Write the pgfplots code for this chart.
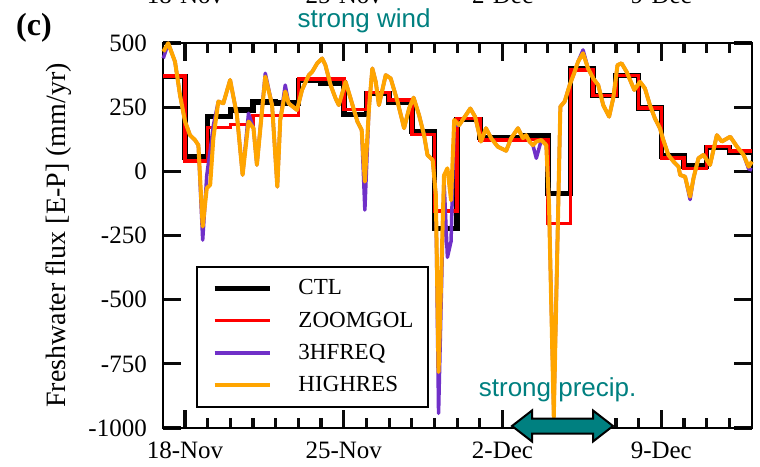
\documentclass[border=0pt]{standalone}
\usepackage{fontspec}
\setmainfont{Liberation Serif}
\newfontfamily\annotfont{Liberation Sans}
\usepackage{pgfplots}
\pgfplotsset{compat=1.18}

\definecolor{ctlcol}{RGB}{0,0,0}
\definecolor{zoomcol}{RGB}{255,0,0}
\definecolor{freqcol}{RGB}{112,48,200}
\definecolor{hirescol}{RGB}{255,165,0}
\definecolor{annot}{RGB}{0,128,128}
\definecolor{tickcol}{RGB}{10,10,10}

\begin{document}
\begin{tikzpicture}
\begin{axis}[
  at={(163pt,38pt)}, anchor=south west,
  scale only axis, width=589pt, height=385pt,
  xmin=-0.97, xmax=25, ymin=-1000, ymax=500,
  clip=false,
  axis line style={line width=2.2pt},
  every tick/.style={draw=tickcol, line width=3.2pt},
  tick align=inside,
  xtick pos=both, ytick pos=both,
  xticklabel pos=bottom, yticklabel pos=left,
  major tick length=18pt, minor tick length=10pt,
  xtick={0,7,14,21},
  xticklabels={18-Nov,25-Nov,2-Dec,9-Dec},
  minor xtick={1,2,3,4,5,6,8,9,10,11,12,13,15,16,17,18,19,20,22,23,24},
  ytick={-1000,-750,-500,-250,0,250,500},
  yticklabels={-1000,-750,-500,-250,0,250,500},
  xticklabel style={font=\fontsize{25}{25}\selectfont, inner sep=0pt, anchor=north, yshift=-14pt},
  yticklabel style={font=\fontsize{25}{25}\selectfont, inner sep=0pt, anchor=east, xshift=-16pt},
  ylabel={Freshwater flux [E-P] (mm/yr)},
  ylabel style={font=\fontsize{28}{28}\selectfont, at={(axis description cs:-0.1766,0.5)}, anchor=center},
  legend style={at={(axis description cs:0.056,0.421)}, anchor=north west,
    draw=black, line width=2pt, fill=white,
    font=\fontsize{23}{23}\selectfont,
    inner xsep=15pt, inner ysep=12pt, row sep=13.3pt, column sep=26pt,
    nodes={inner sep=0pt, text height=16pt, text depth=3pt},
    cells={anchor=west}},
  legend image code/.code={\draw[#1] (0pt,0pt) -- (55pt,0pt);},
]

% daily means of the two coarse runs
\addplot[ctlcol, line width=5.5pt, const plot] coordinates {
(-0.97,370)(0,55)(1,213)(2,239)(3,270)(4,267)(5,354)(6,345)(7,222)(8,304)
(9,268)(10,155)(11,-222)(12,202)(13,132)(14,132)(15,138)(16,-86)(17,401)
(18,296)(19,374)(20,247)(21,60)(22,20)(23,92)(24,76)(25,76)};
\addlegendentry{CTL}

\addplot[zoomcol, line width=3.5pt, const plot] coordinates {
(-0.97,372)(0,40)(1,170)(2,183)(3,217)(4,217)(5,360)(6,360)(7,240)(8,308)
(9,278)(10,143)(11,-155)(12,205)(13,122)(14,122)(15,124)(16,-203)(17,395)
(18,296)(19,374)(20,247)(21,52)(22,12)(23,97)(24,80)(25,80)};
\addlegendentry{ZOOMGOL}

% sub-daily output
\addplot[freqcol, line width=3.5pt, line join=round] coordinates {
(-0.96,440)(-0.74,499)(-0.44,427)(-0.22,297)(0.00,195)(0.22,141)(0.44,122)
(0.59,102)(0.78,-268)(0.96,-16)(1.11,82)(1.25,179)(1.47,272)(1.69,265)
(1.99,356)(2.29,219)(2.54,-14)(2.80,226)(3.02,168)(3.17,25)(3.54,382)
(3.84,258)(4.07,-60)(4.20,200)(4.42,336)(4.57,265)(4.94,239)(5.16,317)
(5.46,375)(5.61,388)(5.83,421)(6.05,440)(6.19,414)(6.42,336)(6.64,284)
(6.78,258)(7.08,349)(7.30,284)(7.60,194)(7.79,161)(7.93,-151)(8.11,245)
(8.26,401)(8.41,349)(8.55,258)(8.85,375)(9.07,362)(9.37,272)(9.66,168)
(9.88,245)(10.08,287)(10.32,219)(10.54,141)(10.69,64)(10.92,44)(11.06,-92)
(11.18,-943)(11.42,-35)(11.57,-335)(11.73,-273)(11.87,179)(12.09,180)
(12.24,200)(12.58,245)(12.79,213)(13.05,116)(13.27,168)(13.50,129)(13.79,96)
(14.16,80)(14.38,129)(14.68,168)(14.90,129)(15.04,141)(15.19,116)(15.34,102)
(15.49,51)(15.71,122)(15.93,102)(16.05,-131)(16.26,-935)(16.55,252)(16.74,272)
(16.96,336)(17.18,388)(17.33,427)(17.55,473)(17.77,401)(18.00,362)(18.22,336)
(18.44,258)(18.70,213)(18.88,284)(19.07,414)(19.25,421)(19.47,388)(19.81,317)
(20.06,349)(20.28,323)(20.50,258)(20.72,206)(20.94,168)(21.09,122)(21.31,64)
(21.54,38)(21.76,18)(21.83,-14)(22.05,-21)(22.27,-110)(22.42,-27)(22.64,51)
(22.86,64)(23.15,25)(23.45,141)(23.67,116)(24.04,135)(24.34,96)(24.63,64)
(24.85,10)(25.00,5)};
\addlegendentry{3HFREQ}

\addplot[hirescol, line width=4pt, line join=round] coordinates {
(-0.96,466)(-0.74,499)(-0.44,427)(-0.22,297)(0.00,195)(0.22,141)(0.44,122)
(0.59,102)(0.78,-215)(0.96,-66)(1.11,-53)(1.25,129)(1.47,272)(1.69,265)
(1.99,356)(2.29,219)(2.54,-14)(2.80,194)(3.02,168)(3.17,25)(3.54,369)
(3.84,258)(4.07,-60)(4.20,200)(4.42,311)(4.57,265)(4.94,239)(5.16,317)
(5.46,375)(5.61,388)(5.83,421)(6.05,440)(6.19,414)(6.42,336)(6.64,284)
(6.78,258)(7.08,349)(7.30,284)(7.60,194)(7.79,161)(7.93,-40)(8.11,245)
(8.26,401)(8.41,349)(8.55,258)(8.85,375)(9.07,362)(9.37,272)(9.66,168)
(9.88,245)(10.08,287)(10.32,219)(10.54,141)(10.69,64)(10.92,44)(11.06,-92)
(11.18,-782)(11.42,-16)(11.57,12)(11.73,-113)(11.87,200)(12.09,180)
(12.24,200)(12.58,245)(12.79,213)(13.05,116)(13.27,168)(13.50,129)(13.79,96)
(14.16,80)(14.38,129)(14.68,168)(14.90,129)(15.04,141)(15.19,116)(15.34,102)
(15.49,116)(15.71,122)(15.93,102)(16.05,-131)(16.26,-958)(16.55,252)(16.74,272)
(16.96,336)(17.18,388)(17.33,427)(17.55,460)(17.77,401)(18.00,362)(18.22,336)
(18.44,258)(18.70,213)(18.88,284)(19.07,414)(19.25,421)(19.47,388)(19.81,317)
(20.06,349)(20.28,323)(20.50,258)(20.72,206)(20.94,168)(21.09,122)(21.31,64)
(21.54,38)(21.76,18)(21.83,-14)(22.05,-21)(22.27,-99)(22.42,-27)(22.64,51)
(22.86,64)(23.15,25)(23.45,141)(23.67,116)(24.04,135)(24.34,96)(24.63,64)
(24.85,18)(25.00,38)};
\addlegendentry{HIGHRES}

% event annotations
\node[font=\annotfont\fontsize{26}{26}\selectfont, text=annot, anchor=base, inner sep=0pt]
  at (axis cs:7.9,562) {strong wind};
\node[font=\annotfont\fontsize{26}{26}\selectfont, text=annot, anchor=base, inner sep=0pt]
  at (axis cs:16.43,-879) {strong precip.};
\end{axis}

% arrow over the lower axis line marking the precipitation event
\draw[fill=annot, draw=black, line width=2pt, line join=miter]
  (562.5pt,40pt) ++(-50.5pt,0pt) -- ++(20pt,15.5pt) -- ++(0pt,-8pt)
  -- ++(61pt,0pt) -- ++(0pt,8pt) -- ++(20pt,-15.5pt) -- ++(-20pt,-15.5pt)
  -- ++(0pt,8pt) -- ++(-61pt,0pt) -- ++(0pt,-8pt) -- cycle;

% panel letter and the date labels of the panel above
\node[font=\bfseries\fontsize{32}{32}\selectfont, inner sep=0pt] at (34pt,438pt) {(c)};
\foreach \px/\lab in {185/18-Nov, 343.8/25-Nov, 502.6/2-Dec, 661.3/9-Dec}
  \node[font=\fontsize{25}{25}\selectfont, anchor=base, inner sep=0pt] at (\px pt,462pt) {\lab};

\pgfresetboundingbox
\path[use as bounding box] (0pt,0pt) rectangle (760pt,466pt);
\end{tikzpicture}
\end{document}
